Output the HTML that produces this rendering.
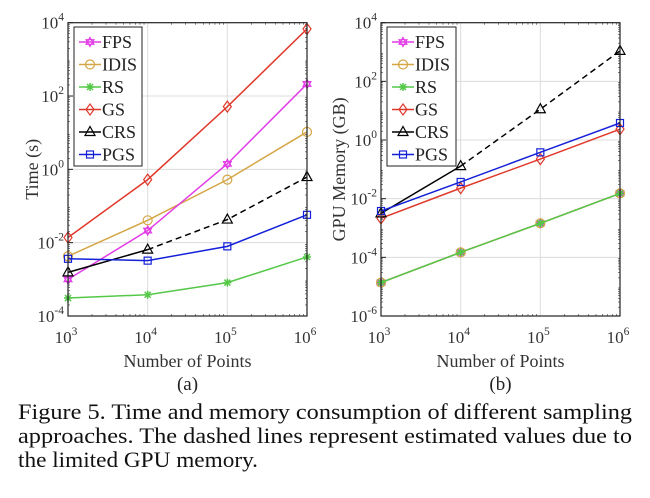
<!DOCTYPE html>
<html><head><meta charset="utf-8"><style>
html,body{margin:0;padding:0;background:#fff;}
svg{display:block;font-family:"Liberation Serif",serif;}
</style></head><body>
<svg id="fig" width="650" height="498" viewBox="0 0 650 498" xmlns="http://www.w3.org/2000/svg"></svg>
<script>
const xCats = [3, 4, 5, 6];
// log10 values, panel (a) time
const timeFPS  = [-3.0, -1.67, 0.15, 2.33];
const timeIDIS = [-2.37, -1.39, -0.28, 1.02];
const timeRS   = [-3.51, -3.42, -3.09, -2.39];
const timeGS   = [-1.86, -0.28, 1.71, 3.83];
const timeCRS  = [-2.81, -2.19, -1.37, -0.21];
const timePGS  = [-2.44, -2.49, -2.10, -1.24];
// log10 values, panel (b) memory
const memFPS  = [-4.86, -3.83, -2.84, -1.82];
const memIDIS = [-4.86, -3.83, -2.84, -1.82];
const memRS   = [-4.86, -3.83, -2.84, -1.82];
const memGS   = [-2.67, -1.64, -0.65, 0.37];
const memCRS  = [-2.5, -0.89, 1.05, 3.04];
const memPGS  = [-2.42, -1.43, -0.42, 0.58];
const yTicksA = [-4, -2, 0, 2, 4];
const yTicksB = [-6, -4, -2, 0, 2, 4];
const legendLabels = ["FPS", "IDIS", "RS", "GS", "CRS", "PGS"];

const NS = "http://www.w3.org/2000/svg";
const svg = document.getElementById("fig");
function mk(tag, attrs, parent) {
  const e = document.createElementNS(NS, tag);
  for (const k in attrs) e.setAttribute(k, attrs[k]);
  (parent || svg).appendChild(e);
  return e;
}
const colors = {FPS:"#e23ce6", IDIS:"#d4a645", RS:"#55c848", GS:"#e0392b", CRS:"#000", PGS:"#1420d8"};

function marker(g, name, x, y) {
  const c = colors[name];
  let m;
  if (name === "FPS") {
    m = mk("path", {d:`M${x},${y-4.5}L${x+3.9},${y+2.3}L${x-3.9},${y+2.3}Z M${x},${y+4.5}L${x+3.9},${y-2.3}L${x-3.9},${y-2.3}Z`, fill:"none", stroke:c, "stroke-width":1.2}, g);
  } else if (name === "IDIS") {
    m = mk("circle", {cx:x, cy:y, r:4.5, fill:"none", stroke:c, "stroke-width":1.2}, g);
  } else if (name === "RS") {
    m = mk("path", {d:`M${x-4},${y}H${x+4}M${x},${y-4}V${y+4}M${x-3},${y-3}L${x+3},${y+3}M${x-3},${y+3}L${x+3},${y-3}`, stroke:c, "stroke-width":1.5}, g);
  } else if (name === "GS") {
    m = mk("path", {d:`M${x},${y-5.5}L${x+4},${y}L${x},${y+5.5}L${x-4},${y}Z`, fill:"none", stroke:c, "stroke-width":1.2}, g);
  } else if (name === "CRS") {
    m = mk("path", {d:`M${x},${y-5.5}L${x+5},${y+3.5}L${x-5},${y+3.5}Z`, fill:"none", stroke:c, "stroke-width":1.2}, g);
  } else {
    m = mk("rect", {x:x-3.5, y:y-3.5, width:7, height:7, fill:"none", stroke:c, "stroke-width":1.2}, g);
  }
  
  
}

function panel(opt) {
  const {id, x0, x1, y0, y1, ymin, ymax, ticks, series, ylabel, label, lx, lw, ylx} = opt;
  const g = mk("g", {});
  
  
  const X = v => x0 + (v - 3) / 3 * (x1 - x0);
  const Y = v => y1 - (v - ymin) / (ymax - ymin) * (y1 - y0);
  for (const t of ticks) {
    if (t > ymin && t < ymax) mk("line", {x1:x0, x2:x1, y1:Y(t), y2:Y(t), stroke:"#dcdcdc", "stroke-width":1}, g);
  }
  for (const c of xCats) {
    if (c > 3 && c < 6) mk("line", {x1:X(c), x2:X(c), y1:y0, y2:y1, stroke:"#dcdcdc", "stroke-width":1}, g);
  }
  for (let d = ymin; d < ymax; d++) for (let k = 2; k < 10; k++) {
    const yy = Y(d + Math.log10(k));
    mk("line", {x1:x0, x2:x0+2, y1:yy, y2:yy, stroke:"#333", "stroke-width":0.6}, g);
    mk("line", {x1:x1, x2:x1-2, y1:yy, y2:yy, stroke:"#333", "stroke-width":0.6}, g);
  }
  for (let d = 3; d < 6; d++) for (let k = 2; k < 10; k++) {
    const xx = X(d + Math.log10(k));
    mk("line", {x1:xx, x2:xx, y1:y1, y2:y1-2, stroke:"#333", "stroke-width":0.6}, g);
    mk("line", {x1:xx, x2:xx, y1:y0, y2:y0+2, stroke:"#333", "stroke-width":0.6}, g);
  }
  for (const s of series) {
    const n = s.name;
    const line = s.dashFrom == null ? s.data : s.data.slice(0, s.dashFrom + 1);
    if (line.length > 1) {
      const p = mk("polyline", {points: line.map((v,i)=>X(xCats[i])+","+Y(v)).join(" "), fill:"none", stroke:colors[n], "stroke-width":1.5}, g);
      
      
    }
    if (s.dashFrom != null) {
      const pts = s.data.slice(s.dashFrom).map((v,i)=>X(xCats[i+s.dashFrom])+","+Y(v)).join(" ");
      const p = mk("polyline", {points: pts, fill:"none", stroke:colors[n], "stroke-width":1.5, "stroke-dasharray":"6,4"}, g);
      
      
    }
    s.data.forEach((v,i)=>marker(g, n, X(xCats[i]), Y(v)));
  }
  mk("rect", {x:x0, y:y0, width:x1-x0, height:y1-y0, fill:"none", stroke:"#222", "stroke-width":1.2}, g);
  for (const t of ticks) {
    const tx = mk("text", {x:x0-4, y:Y(t)+6, "text-anchor":"end", "font-size":17, fill:"#333"}, g);
    
    
    tx.innerHTML = `10<tspan dy="-8" font-size="11.5">${t}</tspan>`;
    mk("line", {x1:x0, x2:x0+5, y1:Y(t), y2:Y(t), stroke:"#222"}, g);
  }
  for (const c of xCats) {
    const tx = mk("text", {x:X(c)-2, y:y1+27, "text-anchor":"middle", "font-size":17, fill:"#333"}, g);
    
    
    tx.innerHTML = `10<tspan dy="-8" font-size="11.5">${c}</tspan>`;
  }
  const xl = mk("text", {x:(x0+x1)/2, y:y1+51, "text-anchor":"middle", "font-size":18, fill:"#333"}, g);
  
  
  xl.textContent = "Number of Points";
  const yl = mk("text", {x:0, y:0, transform:`translate(${ylx},${(y0+y1)/2}) rotate(-90)`, "text-anchor":"middle", "font-size":18, fill:"#333"}, g);
  
  
  yl.textContent = ylabel;
  const pl = mk("text", {x:(x0+x1)/2, y:y1+74, "text-anchor":"middle", "font-size":19, fill:"#222"}, g);
  
  
  pl.textContent = label;
  const lg = mk("g", {}, g);
  
  
  mk("rect", {x:lx, y:27, width:lw, height:139, fill:"#fff", stroke:"#222", "stroke-width":1}, lg);
  legendLabels.forEach((n, i) => {
    const yy = 42 + i * 22.5;
    const e = mk("g", {}, lg);
    
    
    mk("line", {x1:lx+5, x2:lx+27, y1:yy, y2:yy, stroke:colors[n], "stroke-width":1.5}, e);
    marker(e, n, lx+16, yy);
    const t = mk("text", {x:lx+28, y:yy+6, "font-size":18, fill:"#222"}, e);
    t.textContent = n;
  });
}

panel({id:"time-chart", x0:68, x1:307, y0:22.7, y1:316, ymin:-4, ymax:4, ticks:yTicksA, ylabel:"Time (s)", label:"(a)", lx:74, lw:68, ylx:38,
  series:[{name:"RS",data:timeRS},{name:"IDIS",data:timeIDIS},{name:"FPS",data:timeFPS},{name:"GS",data:timeGS},{name:"CRS",data:timeCRS,dashFrom:1},{name:"PGS",data:timePGS}]});
panel({id:"memory-chart", x0:381, x1:620, y0:22.7, y1:316, ymin:-6, ymax:4, ticks:yTicksB, ylabel:"GPU Memory (GB)", label:"(b)", lx:387, lw:69, ylx:345,
  series:[{name:"FPS",data:memFPS},{name:"IDIS",data:memIDIS},{name:"RS",data:memRS},{name:"GS",data:memGS},{name:"CRS",data:memCRS,dashFrom:1},{name:"PGS",data:memPGS}]});

const cap = [["Figure 5. Time and memory consumption of different sampling", 419, 614],
             ["approaches.  The dashed lines represent estimated values due to", 443, 614],
             ["the limited GPU memory.", 467, 240]];
cap.forEach(([s, y, w]) => {
  const t = mk("text", {x:18, y:y, "font-size":22, fill:"#111", textLength:w, lengthAdjust:"spacingAndGlyphs"});
  
  
  t.textContent = s;
});
</script>
</body></html>
